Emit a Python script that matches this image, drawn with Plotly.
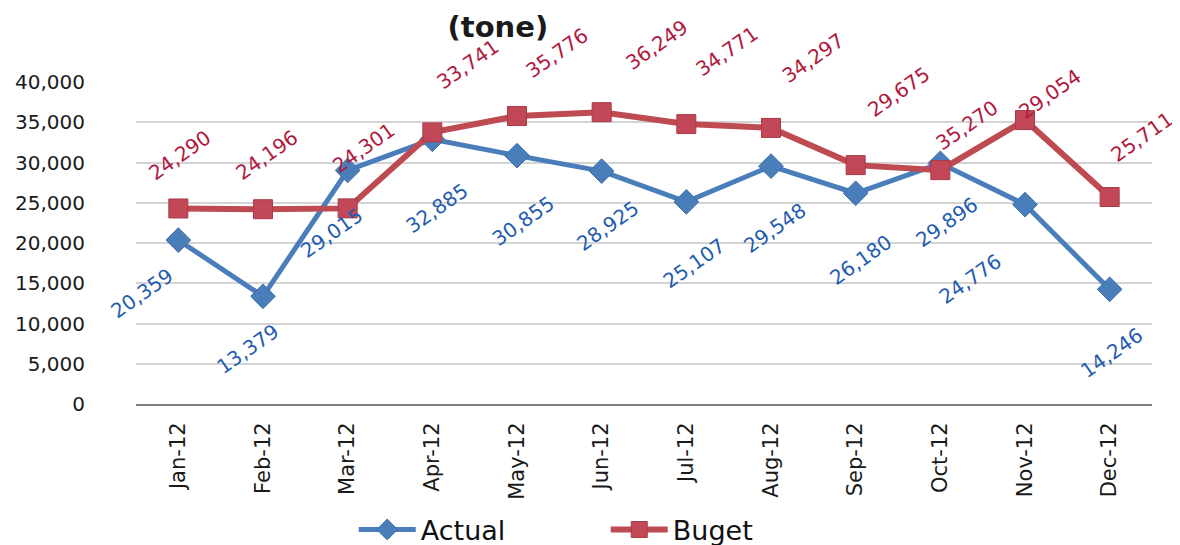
import plotly.graph_objects as go

# --- data ---
months = ["Jan-12", "Feb-12", "Mar-12", "Apr-12", "May-12", "Jun-12",
          "Jul-12", "Aug-12", "Sep-12", "Oct-12", "Nov-12", "Dec-12"]
actual = [20359, 13379, 29015, 32885, 30855, 28925, 25107, 29548, 26180, 29896, 24776, 14246]
budget = [24290, 24196, 24301, 33741, 35776, 36249, 34771, 34297, 29675, 29054, 35270, 25711]
# the chart prints the Oct / Nov budget labels the other way round
budget_label_vals = [24290, 24196, 24301, 33741, 35776, 36249, 34771, 34297, 29675, 35270, 29054, 25711]
y_ticks = [0, 5000, 10000, 15000, 20000, 25000, 30000, 35000, 40000]

# label nudges in px (x right, y down) - the labels were hand placed in the original
budget_dx = [2, 4, 16, 36, 40, 55, 41, 42, 43, 27, 25, 32]
budget_dy = [-53, -54, -60, -68, -63, -67, -73, -70, -73, -45, -26, -60]
actual_dx = [-36, -15, -16, 5, 6, 6, 8, 4, 5, 7, -55, 2]
actual_dy = [53, 53, 63, 69, 65, 55, 61, 62, 67, 59, 74, 64]

BLUE = "#4a7ebb"
BLUE_TXT = "#1f5cb0"
RED = "#be4b52"
RED_TXT = "#b0183e"
FONT = "DejaVu Sans"

fig = go.Figure()
fig.add_trace(go.Scatter(
    x=months, y=actual, name="Actual", mode="lines+markers",
    line=dict(color=BLUE, width=5),
    marker=dict(symbol="diamond", size=19, color=BLUE, line=dict(color="#3f6fa8", width=1))
))
fig.add_trace(go.Scatter(
    x=months, y=budget, name="Buget", mode="lines+markers",
    line=dict(color=RED, width=6),
    marker=dict(symbol="square", size=19, color="#c24857", line=dict(color="#a93a47", width=1))
))

annotations = []
for m, v, dx, dy in zip(months, actual, actual_dx, actual_dy):
    annotations.append(dict(x=m, y=v, text=f"{v:,}", showarrow=False, textangle=-35,
                            xanchor="center", yanchor="middle", xshift=dx, yshift=-dy,
                            font=dict(family=FONT, size=20, color=BLUE_TXT)))
for m, v, lv, dx, dy in zip(months, budget, budget_label_vals, budget_dx, budget_dy):
    annotations.append(dict(x=m, y=v, text=f"{lv:,}", showarrow=False, textangle=-35,
                            xanchor="center", yanchor="middle", xshift=dx, yshift=-dy,
                            font=dict(family=FONT, size=20, color=RED_TXT)))

# page body has an 8px margin, so the figure is 8px smaller than the window
fig.update_layout(
    width=1172, height=537,
    margin=dict(l=128, r=28, t=74, b=141, autoexpand=False),
    paper_bgcolor="white", plot_bgcolor="white",
    font=dict(family=FONT, color="#1a1a1a"),
    title=dict(text="<b>(tone)</b>", x=0.418, xanchor="center", y=0.964, yanchor="middle",
               xref="container", yref="container", font=dict(family=FONT, size=29, color="#1a1a1a")),
    showlegend=True,
    legend=dict(orientation="h", x=0.295, xanchor="left", xref="container",
                y=0.028, yanchor="middle", yref="container",
                font=dict(family=FONT, size=27, color="#111111"),
                itemwidth=57, entrywidth=180, bgcolor="rgba(0,0,0,0)"),
    annotations=annotations,
    xaxis=dict(type="category", range=[-0.5, 11.5], tickangle=-90, showgrid=False, zeroline=False,
               showline=True, linecolor="#7f7f7f", linewidth=2, ticklabelstandoff=8,
               automargin=False, tickfont=dict(family=FONT, size=21, color="#1a1a1a")),
    yaxis=dict(range=[0, 40000], tickvals=y_ticks, tickformat=",d",
               showgrid=True, gridcolor="#d4d4d4", gridwidth=1.5, zeroline=False,
               ticklabelstandoff=50, automargin=False,
               tickfont=dict(family=FONT, size=20, color="#1a1a1a")),
)

fig.write_html("out.html")
